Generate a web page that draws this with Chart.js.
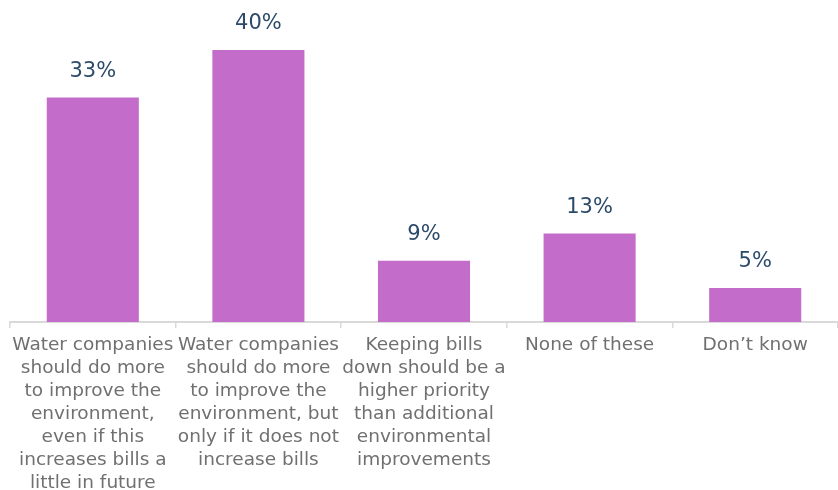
<!DOCTYPE html>
<html><head><meta charset="utf-8">
<script src="https://cdn.jsdelivr.net/npm/chart.js@4/dist/chart.umd.min.js"></script>
<style>html,body{margin:0;padding:0;background:#fff}#wrap{width:838px;height:490px;position:relative}</style>
</head><body><div id="wrap"><canvas id="c"></canvas></div>
<script>
const categories = [
  ["Water companies","should do more","to improve the","environment,","even if this","increases bills a","little in future"],
  ["Water companies","should do more","to improve the","environment, but","only if it does not","increase bills"],
  ["Keeping bills","down should be a","higher priority","than additional","environmental","improvements"],
  "None of these",
  "Don\u2019t know"
];
const values = [33, 40, 9, 13, 5];
const valueLabels = ["33%", "40%", "9%", "13%", "5%"];

const FONT = "'DejaVu Sans', sans-serif";
const labelPlugin = {
  id: 'valLabels',
  afterDatasetsDraw(chart) {
    const ctx = chart.ctx;
    const meta = chart.getDatasetMeta(0);
    ctx.save();
    ctx.fillStyle = '#2C4A6A';
    ctx.font = '21px ' + FONT;
    ctx.textAlign = 'center';
    ctx.textBaseline = 'middle';
    meta.data.forEach((bar, i) => {
      ctx.fillText(valueLabels[i], bar.x, bar.y - 26);
    });
    ctx.restore();
  }
};

new Chart(document.getElementById('c'), {
  type: 'bar',
  data: { labels: categories, datasets: [{ data: values, backgroundColor: '#C36CC9', barPercentage: 0.556, categoryPercentage: 1 }] },
  options: {
    responsive: true, maintainAspectRatio: false, animation: false,
    layout: { padding: { left: 10, right: 0, top: 50, bottom: -11 } },
    plugins: { legend: { display: false }, tooltip: { enabled: false } },
    scales: {
      y: { display: false, min: 0, max: 40 },
      x: {
        border: { display: true, color: '#D9D9D9', width: 2 },
        grid: { display: true, drawOnChartArea: false, drawTicks: true, tickLength: 6, color: '#D9D9D9', lineWidth: 1.5, offset: true },
        ticks: { color: '#707070', font: { family: FONT, size: 18.5, lineHeight: 1.243 }, maxRotation: 0, autoSkip: false, padding: 6 }
      }
    }
  },
  plugins: [labelPlugin]
});
</script></body></html>
